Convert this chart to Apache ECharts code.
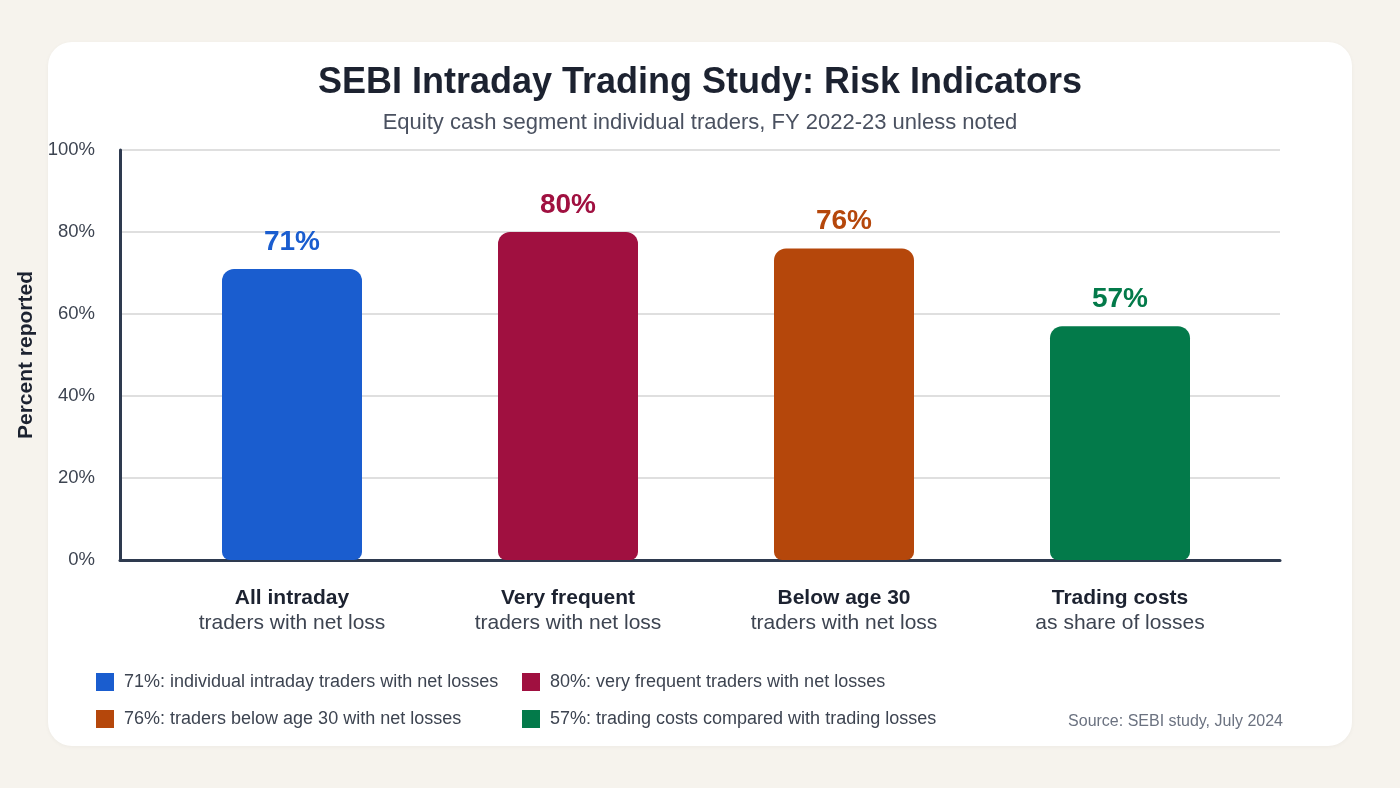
<!DOCTYPE html>
<html>
<head>
<meta charset="utf-8">
<script src="https://cdn.jsdelivr.net/npm/echarts@6/dist/echarts.min.js"></script>
<style>
  html, body { margin: 0; padding: 0; background: #f6f3ed; }
  #card { position: absolute; left: 48px; top: 42px; width: 1304px; height: 704px;
          background: #ffffff; border-radius: 24px; box-shadow: 0 1px 4px rgba(0,0,0,0.04); }
  #main { position: absolute; left: 0; top: 0; width: 1400px; height: 788px; }
</style>
</head>
<body>
<div id="card"></div>
<div id="main"></div>
<script>
// categories: bold first line + second line
const catTitles = ['All intraday', 'Very frequent', 'Below age 30', 'Trading costs']
const catSubs = ['traders with net loss', 'traders with net loss', 'traders with net loss', 'as share of losses']
const values = [71, 80, 76, 57]
const legendNames = [
    '71%: individual intraday traders with net losses',
    '80%: very frequent traders with net losses',
    '76%: traders below age 30 with net losses',
    '57%: trading costs compared with trading losses'
]
const colors = ['#1a5dcf', '#a01040', '#b5470b', '#037a4a']
const yTicks = [0, 20, 40, 60, 80, 100]

const font = '"Liberation Sans", Arial, Helvetica, sans-serif'
const myChart = echarts.init(document.getElementById('main'), null, { renderer: 'canvas' })

// one series per bar so each can get its own legend entry
const series = values.map((v, i) => ({
    name: legendNames[i],
    type: 'bar',
    xAxisIndex: 1,
    yAxisIndex: 1,
    barWidth: 140,
    barGap: '-100%',
    data: values.map((_, j) => (j === i ? v : '-')),
    itemStyle: { color: colors[i], borderRadius: [12, 12, 8, 8] },
    label: {
        show: true,
        position: 'top',
        distance: 13,
        formatter: '{c}%',
        color: colors[i],
        fontSize: 28,
        fontWeight: 'bold',
        fontFamily: font
    }
}))

const legendText = { fontSize: 18, color: '#3d4451', padding: [0, 0, 0, 5], fontFamily: font }

const option = {
    backgroundColor: 'transparent',
    textStyle: { fontFamily: font },
    title: [
        {
            text: 'SEBI Intraday Trading Study: Risk Indicators',
            left: 'center',
            top: 57,
            textStyle: { fontSize: 36, fontWeight: 'bold', color: '#1c2230', lineHeight: 42, fontFamily: font }
        },
        {
            text: 'Equity cash segment individual traders, FY 2022-23 unless noted',
            left: 'center',
            top: 104,
            textStyle: { fontSize: 22, fontWeight: 'normal', color: '#4a5160', lineHeight: 28, fontFamily: font }
        }
    ],
    legend: [
        {
            data: [legendNames[0], legendNames[2]],
            orient: 'vertical',
            left: 91,
            top: 668,
            itemWidth: 18,
            itemHeight: 18,
            itemGap: 19,
            icon: 'rect',
            textStyle: legendText
        },
        {
            data: [legendNames[1], legendNames[3]],
            orient: 'vertical',
            left: 517,
            top: 668,
            itemWidth: 18,
            itemHeight: 18,
            itemGap: 19,
            icon: 'rect',
            textStyle: legendText
        }
    ],
    graphic: [
        {
            type: 'text',
            right: 117,
            top: 714,
            style: { text: 'Source: SEBI study, July 2024', fill: '#6b7280', font: '16px ' + font }
        }
    ],
    grid: [
        { left: 120, right: 120, top: 150, bottom: 228 },
        { left: 154, right: 142, top: 150, bottom: 228 }
    ],
    xAxis: [
        {
            gridIndex: 0,
            type: 'value',
            min: 0,
            max: 1,
            axisLine: { show: true, onZero: false, lineStyle: { color: '#2e3a4f', width: 3 } },
            axisTick: { show: false },
            axisLabel: { show: false },
            splitLine: { show: false }
        },
        {
            gridIndex: 1,
            type: 'category',
            data: catTitles,
            axisLine: { show: false },
            axisTick: { show: false },
            axisLabel: {
                margin: 26,
                formatter: (val, idx) => '{b|' + val + '}\n{r|' + catSubs[idx] + '}',
                rich: {
                    b: { fontSize: 21, fontWeight: 'bold', color: '#1c2230', lineHeight: 25, fontFamily: font },
                    r: { fontSize: 21, color: '#3d4451', lineHeight: 25, fontFamily: font }
                }
            }
        }
    ],
    yAxis: [
        {
            gridIndex: 0,
            type: 'value',
            min: yTicks[0],
            max: yTicks[yTicks.length - 1],
            interval: 20,
            name: 'Percent reported',
            nameLocation: 'middle',
            nameGap: 80,
            nameRotate: 90,
            nameTextStyle: { fontSize: 21, fontWeight: 'bold', color: '#1c2230', fontFamily: font },
            axisLine: { show: true, lineStyle: { color: '#2e3a4f', width: 3 } },
            axisTick: { show: false },
            axisLabel: { formatter: '{value}%', fontSize: 18.5, color: '#3d4451', margin: 25, fontFamily: font },
            splitLine: { lineStyle: { color: '#d4d4d4', width: 1.5 } }
        },
        {
            gridIndex: 1,
            type: 'value',
            min: 0,
            max: 100,
            show: false
        }
    ],
    series: series
}

myChart.setOption(option)
</script>
</body>
</html>
